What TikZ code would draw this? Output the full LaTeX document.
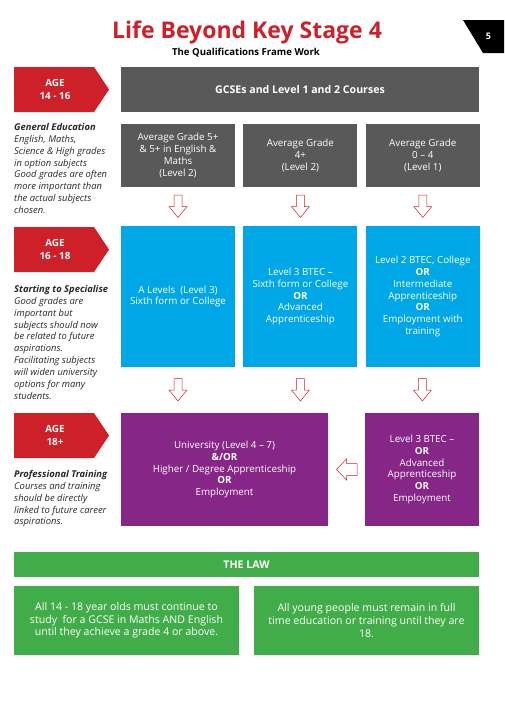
\documentclass[tikz,border=0pt]{standalone}
\usepackage{fontspec}
\setmainfont{Open Sans}
\usetikzlibrary{positioning,calc}
\definecolor{kred}{RGB}{206,32,41}
\definecolor{kgrey}{RGB}{89,89,89}
\definecolor{kblue}{RGB}{0,167,230}
\definecolor{kpurple}{RGB}{134,38,134}
\definecolor{kgreen}{RGB}{64,173,73}
\definecolor{ktext}{RGB}{40,40,40}
\tikzset{
  box/.style={minimum width=114pt, minimum height=63pt, inner sep=2pt, align=center, text=white, font=\fontsize{9.8}{11.8}\selectfont},
  greybox/.style={box, fill=kgrey},
  bluebox/.style={box, fill=kblue, minimum height=141pt},
  purplebox/.style={box, fill=kpurple, minimum height=113pt},
  lawbox/.style={box, fill=kgreen, minimum width=225pt, minimum height=69pt, font=\fontsize{10.6}{12.7}\selectfont},
  hollow/.style={draw=kred, fill=white, line width=0.5pt, line join=miter},
  downarr/.pic={\draw[hollow] (-4,-11.5) -- (4,-11.5) -- (4,0) -- (9,0) -- (0,11) -- (-9,0) -- (-4,0) -- cycle;},
  leftarr/.pic={\draw[hollow] (10.5,-6) -- (0,-6) -- (0,-10.5) -- (-10,0) -- (0,10.5) -- (0,6) -- (10.5,6) -- cycle;},
  agelbl/.style={align=center, text=white, inner sep=0pt, font=\fontsize{9.9}{12.5}\selectfont\bfseries},
  sidetext/.style={anchor=north west, inner sep=0pt, align=left, text=ktext, font=\fontsize{9.4}{11.9}\selectfont\itshape},
}
\begin{document}
\begin{tikzpicture}[x=1pt, y=-1pt]
\useasboundingbox (0,0) rectangle (504,720);
% title and page tab
\node[anchor=base, text=kred, font=\fontsize{23}{26}\selectfont\bfseries] (title) at (247,38) {Life Beyond Key Stage 4};
\node[anchor=base, font=\fontsize{9.6}{11}\selectfont\bfseries] (subtitle) at (246,55) {The Qualifications Frame Work};
\fill[black] (463,20) -- (504,20) -- (504,53) -- (483,53) -- cycle;
\node[text=white, font=\fontsize{9}{10}\selectfont\bfseries] (page) at (488.5,36) {5};
% age tabs
\foreach \y/\lbl/\nm in {67/14 - 16/age1, 227/16 - 18/age2, 413/18+/age3} {
  \fill[kred] (14,\y) -- ++(80,0) -- ++(15,22.5) -- ++(-15,22.5) -- ++(-80,0) -- cycle;
  \node[agelbl] (\nm) at (55,\y+22.5) {AGE\\\lbl};
}
% left hand notes
\node[sidetext] (note1) at (14,123) {\textbf{General Education}\\English, Maths,\\Science \& High grades\\in option subjects\\Good grades are often\\more important than\\the actual subjects\\chosen.};
\node[sidetext] (note2) at (14,285) {\textbf{Starting to Specialise}\\Good grades are\\important but\\subjects should now\\be related to future\\aspirations.\\Facilitating subjects\\will widen university\\options for many\\students.};
\node[sidetext] (note3) at (14,470) {\textbf{Professional Training}\\Courses and training\\should be directly\\linked to future career\\aspirations.};
% key stage 4
\node[greybox, minimum width=358pt, minimum height=45pt, font=\fontsize{10.6}{12}\selectfont\bfseries] (gcse) at (300,89.5) {GCSEs and Level 1 and 2 Courses};
\node[greybox] (g1) at (178,155.5) {Average Grade 5+\\\& 5+ in English \&\\Maths\\(Level 2)};
\node[greybox, right=8pt of g1] (g2) {Average Grade\\4+\\(Level 2)};
\node[greybox, right=8pt of g2] (g3) {Average Grade\\0 -- 4\\(Level 1)};
% post 16
\node[bluebox] (b1) at (178,296.5) {A Levels \ (Level 3)\\Sixth form or College};
\node[bluebox, right=8pt of b1] (b2) {Level 3 BTEC --\\Sixth form or College\\\textbf{OR}\\Advanced\\Apprenticeship};
\node[bluebox, right=8pt of b2] (b3) {Level 2 BTEC, College\\\textbf{OR}\\Intermediate\\Apprenticeship\\\textbf{OR}\\Employment with\\training};
% post 18
\node[purplebox, minimum width=207pt] (p1) at (224.5,469.5) {University (Level 4 -- 7)\\\textbf{\&/OR}\\Higher / Degree Apprenticeship\\\textbf{OR}\\Employment};
\node[purplebox] (p2) at (422,469.5) {Level 3 BTEC --\\\textbf{OR}\\Advanced\\Apprenticeship\\\textbf{OR}\\Employment};
% arrows
\foreach \i in {1,2,3}
  \pic (d\i) at ($(g\i.south)!0.5!(b\i.north)$) {downarr};
\pic (e1) at ($(b1.south)!0.5!(b1.south |- p1.north)$) {downarr};
\pic (e2) at ($(b2.south)!0.5!(b2.south |- p1.north)$) {downarr};
\pic (e3) at ($(b3.south)!0.5!(p2.north)$) {downarr};
\pic (l1) at ($(p2.west)!0.5!(p1.east)$) {leftarr};
% the law
\node[box, fill=kgreen, minimum width=465pt, minimum height=25pt, font=\fontsize{10.6}{12}\selectfont\bfseries] (law) at (246.5,564.5) {THE LAW};
\node[lawbox] (law1) at (126.5,620.5) {All 14 - 18 year olds must continue to\\study \ for a GCSE in Maths AND English\\until they achieve a grade 4 or above.};
\node[lawbox] (law2) at (366.5,620.5) {All young people must remain in full\\time education or training until they are\\18.};
\end{tikzpicture}
\end{document}
